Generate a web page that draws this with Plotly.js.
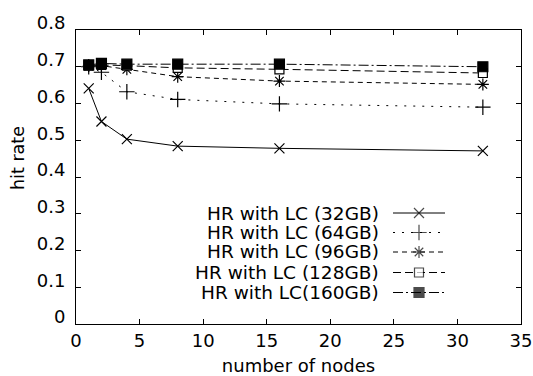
<!DOCTYPE html>
<html>
<head>
<meta charset="utf-8">
<script src="https://cdn.plot.ly/plotly-3.0.1.min.js"></script>
<style>html,body{margin:0;padding:0;background:#fff;}#chart{width:533px;height:376px;}</style>
</head>
<body>
<div id="chart"></div>
<script>
const nodes = [1, 2, 4, 8, 16, 32];
const seriesNames = ["HR with LC (32GB)", "HR with LC (64GB)", "HR with LC (96GB)", "HR with LC (128GB)", "HR with LC(160GB)"];
const hr32 = [0.641, 0.551, 0.503, 0.484, 0.478, 0.471];
const hr64 = [0.700, 0.685, 0.632, 0.611, 0.599, 0.590];
const hr96 = [0.702, 0.703, 0.693, 0.673, 0.661, 0.652];
const hr128 = [0.703, 0.705, 0.703, 0.697, 0.693, 0.683];
const hr160 = [0.705, 0.709, 0.707, 0.707, 0.707, 0.700];
const xTicks = [0, 5, 10, 15, 20, 25, 30, 35];
const yTicks = [0, 0.1, 0.2, 0.3, 0.4, 0.5, 0.6, 0.7, 0.8];

const allY = [hr32, hr64, hr96, hr128, hr160];
const dashes = ["solid", "2px,7px", "5px,4px", "8px,4px", "10px,3px,2px,3px"];
const symbols = ["x-thin-open", "cross-thin-open", "asterisk-open", "square", "square"];
const fills = ["#000", "#000", "#000", "#fff", "#000"];
const msize = [10, 11, 10, 9, 10];

const traces = [];
allY.forEach((ys, i) => {
  traces.push({
    x: nodes, y: ys, type: "scatter", mode: "lines+markers", name: seriesNames[i],
    line: {color: "#000", width: 1, dash: dashes[i]},
    marker: {symbol: symbols[i], size: msize[i], color: fills[i], line: {color: "#000", width: 1.2}},
    showlegend: false, hoverinfo: "skip"
  });
});

// custom legend (text left, sample right), on an overlay axis in pixel-like units
const L = 76, R = 521, T = 30, B = 324;
const px = v => (v - L) / (R - L);
const py = v => (B - v) / (B - T);
const rowY = [213, 232.5, 252, 272.5, 292.5];
const annotations = [];
seriesNames.forEach((n, i) => {
  annotations.push({
    xref: "paper", yref: "paper", x: px(381), y: py(rowY[i]), xanchor: "right", yanchor: "middle",
    text: n, showarrow: false, font: {family: "DejaVu Sans", size: 18.5, color: "#000"}
  });
  traces.push({
    x: [px(393), px(419), px(445)], y: [py(rowY[i]), py(rowY[i]), py(rowY[i])],
    xaxis: "x2", yaxis: "y2", type: "scatter", mode: "lines+markers",
    line: {color: "#000", width: 1, dash: dashes[i]},
    marker: {symbol: symbols[i], size: [0, msize[i], 0], color: fills[i], line: {color: "#000", width: 1.2}},
    showlegend: false, hoverinfo: "skip"
  });
});
annotations.push({
  xref: "paper", yref: "paper", x: px(18), y: py(158), xanchor: "center", yanchor: "middle",
  text: "hit rate", textangle: -90, showarrow: false, font: {family: "DejaVu Sans", size: 17.5, color: "#000"}
});

const layout = {
  width: 533, height: 376,
  margin: {l: L, r: 533 - R, t: T, b: 376 - B, pad: 0},
  paper_bgcolor: "#fff", plot_bgcolor: "#fff",
  font: {family: "DejaVu Sans", size: 18, color: "#000"},
  showlegend: false,
  xaxis: {
    range: [0, 35], tickvals: xTicks, ticktext: xTicks.map(String),
    ticks: "inside", ticklen: 5, tickcolor: "#000", tickwidth: 1,
    showline: true, linecolor: "#000", linewidth: 1, mirror: "ticks",
    showgrid: false, zeroline: false,
    title: {text: "number of nodes", font: {size: 18}, standoff: 9}
  },
  yaxis: {
    range: [0, 0.8], tickvals: yTicks, ticktext: yTicks.map(v => v === 0 ? "0" : v.toFixed(1)),
    ticks: "inside", ticklen: 5, tickcolor: "#000", tickwidth: 1,
    showline: true, linecolor: "#000", linewidth: 1, mirror: "ticks",
    showgrid: false, zeroline: false, ticklabelshift: -7, ticklabelstandoff: 6
  },
  xaxis2: {overlaying: "x", range: [0, 1], visible: false, fixedrange: true},
  yaxis2: {overlaying: "y", range: [0, 1], visible: false, fixedrange: true},
  annotations: annotations
};

Plotly.newPlot("chart", traces, layout, {staticPlot: true, displayModeBar: false});
</script>
</body>
</html>
